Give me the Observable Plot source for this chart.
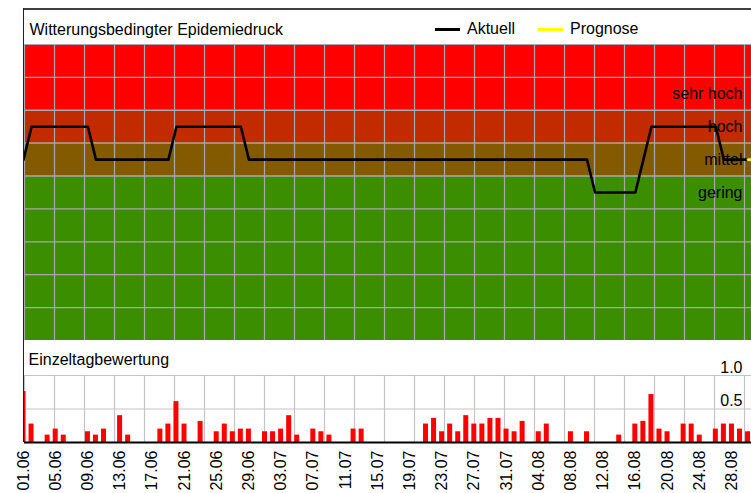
<!DOCTYPE html>
<html>
<head>
<meta charset="utf-8">
<script src="https://cdn.jsdelivr.net/npm/d3@7"></script>
<script src="https://cdn.jsdelivr.net/npm/@observablehq/plot@0.6"></script>
<style>
  html, body { margin: 0; padding: 0; background: white; overflow: hidden; }
  #root { position: relative; width: 751px; height: 493px; overflow: hidden; font-family: "Liberation Sans", Arial, sans-serif; font-size: 16px; }
  #root svg { position: absolute; left: 0; }
  .hdr { position: absolute; left: 23px; top: 8px; width: 728px; height: 36px; border-top: 2px solid #404040; box-sizing: border-box; }
  .vline { position: absolute; left: 23px; top: 8px; width: 1px; height: 434px; background: #222; }
  .lg { position: absolute; top: 19px; line-height: 20px; color: #000; }
  .sw { position: absolute; height: 3px; top: 28px; }
</style>
</head>
<body>
<div id="root">
  <div class="hdr"></div>
  <div class="sw" style="left:435px;width:25px;background:#000"></div>
  <div class="lg" style="left:467px">Aktuell</div>
  <div class="sw" style="left:538px;width:25px;background:#ffff00"></div>
  <div class="lg" style="left:570px">Prognose</div>
</div>
<script>
// ---- data ----
const chartTitle = "Witterungsbedingter Epidemiedruck";
const barTitle = "Einzeltagbewertung";
const seriesNames = ["Aktuell", "Prognose"];

// tick labels (every 4th day, day index from 01.06)
const labelDays = [0,4,8,12,16,20,24,28,32,36,40,44,48,52,56,60,64,68,72,76,80,84,88];
const tickLabels = ["01.06","05.06","09.06","13.06","17.06","21.06","25.06","29.06","03.07","07.07","11.07","15.07","19.07","23.07","27.07","31.07","04.08","08.08","12.08","16.08","20.08","24.08","28.08"];

// level categories
const levelCodes = ["g","m","h","s"];
const levelNames = ["gering","mittel","hoch","sehr hoch"];
const levelValues = [4.5, 5.5, 6.5, 7.5];

// background bands
const bandLow = [0, 5, 6, 7];
const bandHigh = [5, 6, 7, 9];
const bandColors = ["#3a8e00", "#835a00", "#c22a00", "#ff0000"];

// daily level, Aktuell (days 0..90)
const aktuell = [
  "m","h","h","h","h","h","h","h","h","m",
  "m","m","m","m","m","m","m","m","m","h",
  "h","h","h","h","h","h","h","h","m","m",
  "m","m","m","m","m","m","m","m","m","m",
  "m","m","m","m","m","m","m","m","m","m",
  "m","m","m","m","m","m","m","m","m","m",
  "m","m","m","m","m","m","m","m","m","m",
  "m","g","g","g","g","g","g","m","h","h",
  "h","h","h","h","h","h","h","m","m","m",
  "m"
];
// Prognose
const prognoseDays = [90, 91];
const prognose = ["m", "m"];

// daily single-day rating (days 0..90)
const einzeltag = [
  0.76,0.275,0,0.11,0.2,0.11,0,0,0.16,0.11,
  0.2,0,0.4,0.11,0,0,0,0.2,0.275,0.61,
  0.275,0,0.315,0,0.16,0.275,0.16,0.2,0.2,0,
  0.16,0.16,0.2,0.4,0.11,0,0.2,0.16,0.11,0,
  0,0.2,0.2,0,0,0,0,0,0,0,
  0.275,0.36,0.16,0.275,0.16,0.4,0.275,0.275,0.36,0.36,
  0.2,0.16,0.315,0,0.16,0.275,0,0,0.16,0,
  0.16,0,0,0,0.11,0,0.275,0.315,0.715,0.2,
  0.16,0,0.275,0.275,0.11,0,0.2,0.275,0.275,0.2,
  0.16
];
const barTicks = [0.5, 1.0];

// ---- build ----
const xDomain = [0.124, 90.43];
const W = 751, ML = 24;
const gridStep = (xDomain[1] - xDomain[0]) * 30 / (W - ML);
const gridX = d3.range(0, 25).map(k => xDomain[0] + k * gridStep);
const yGrid = [1,2,3,4,5,6,7,8,9];
const lvl = c => levelValues[levelCodes.indexOf(c)];

const bands = bandLow.map((lo, i) => ({lo, hi: bandHigh[i], color: bandColors[i]}));
const levels = levelNames.map((name, i) => ({name, value: levelValues[i]}));
const aktData = aktuell.map((c, i) => ({day: i, v: lvl(c)}));
const progData = prognose.map((c, i) => ({day: prognoseDays[i], v: lvl(c)}));
const barData = einzeltag.map((v, i) => ({day: i, v}));

const font = {fontFamily: "'Liberation Sans', Arial, sans-serif", fontSize: "16px", background: "white", color: "black", overflow: "hidden"};

const topChart = Plot.plot({
  width: W, height: 341,
  marginTop: 44, marginBottom: 1, marginLeft: ML, marginRight: 0,
  x: {domain: xDomain, axis: null},
  y: {domain: [0, 9], axis: null},
  color: {type: "identity"},
  style: font,
  marks: [
    Plot.rect(bands, {y1: "lo", y2: "hi", fill: "color"}),
    Plot.ruleY(yGrid, {stroke: "#a8a8a8", strokeWidth: 1.2}),
    Plot.ruleX(gridX, {stroke: "#a8a8a8", strokeWidth: 1.2}),
    Plot.text(levels, {y: "value", text: "name", frameAnchor: "right", textAnchor: "end", lineAnchor: "middle", dx: -9, fill: "black", fontSize: 16}),
    Plot.line(aktData, {x: "day", y: "v", stroke: "black", strokeWidth: 2.6, clip: true}),
    Plot.line(progData, {x: "day", y: "v", stroke: "#ffff00", strokeWidth: 2.6, clip: true}),
    Plot.text([chartTitle], {frameAnchor: "top-left", textAnchor: "start", lineAnchor: "middle", dx: 5, dy: -15, fill: "black", fontSize: 16})
  ]
});
topChart.style.top = "0px";

const bottomChart = Plot.plot({
  width: W, height: 152,
  marginTop: 34, marginBottom: 51, marginLeft: ML, marginRight: 0,
  x: {domain: xDomain, ticks: labelDays, tickFormat: d => tickLabels[labelDays.indexOf(d)], tickRotate: -90, tickSize: 0, tickPadding: 8, label: null},
  y: {domain: [0, 1], axis: null},
  style: font,
  marks: [
    Plot.ruleY(barTicks, {stroke: "#c4c4c4", strokeWidth: 1.2}),
    Plot.ruleX(gridX, {y1: 0, y2: 1, stroke: "#c4c4c4", strokeWidth: 1.2}),
    Plot.rectY(barData, {x1: d => d.day - 0.31, x2: d => d.day + 0.31, y: "v", fill: "#ff0000", clip: true}),
    Plot.ruleY([0], {stroke: "black", strokeWidth: 2}),
    Plot.text(barTicks, {y: d => d, text: d => d.toFixed(1), frameAnchor: "right", textAnchor: "end", lineAnchor: "middle", dx: -9, dy: -8, fill: "black", fontSize: 16}),
    Plot.text([barTitle], {frameAnchor: "top-left", textAnchor: "start", lineAnchor: "middle", dx: 4, dy: -16, fill: "black", fontSize: 16})
  ]
});
bottomChart.style.top = "341px";

const root = document.getElementById("root");
root.insertBefore(bottomChart, root.firstChild);
root.insertBefore(topChart, root.firstChild);
const vl = document.createElement("div");
vl.className = "vline";
root.appendChild(vl);
</script>
</body>
</html>
